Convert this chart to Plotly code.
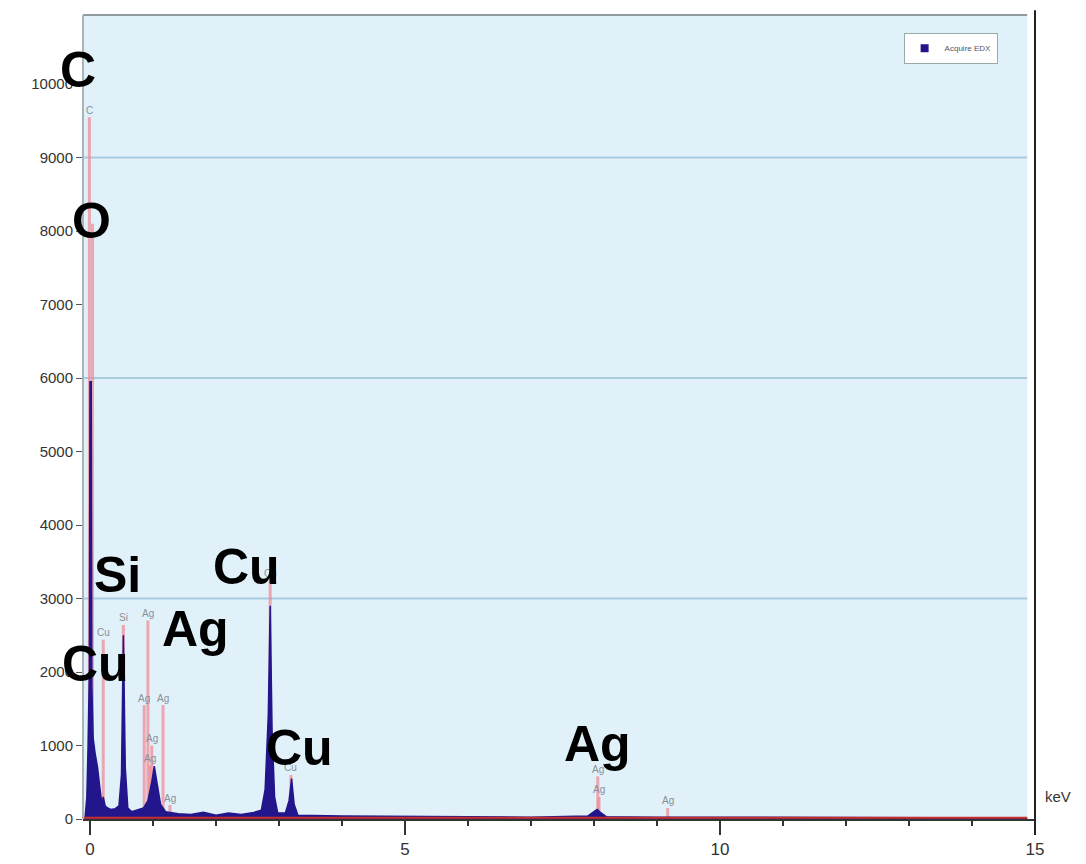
import plotly.graph_objects as go

# EDX spectrum (keV, counts)
spec_kev = [-0.08, -0.05, -0.03, -0.01, 0.00, 0.02, 0.03, 0.05, 0.08, 0.12, 0.16, 0.19,
            0.21, 0.24, 0.28, 0.33, 0.40, 0.46, 0.50, 0.53, 0.56, 0.60, 0.66, 0.75,
            0.85, 0.92, 0.98, 1.02, 1.07, 1.12, 1.20, 1.40, 1.60, 1.80, 2.00, 2.20,
            2.40, 2.60, 2.72, 2.78, 2.83, 2.86, 2.89, 2.93, 2.98, 3.10, 3.16, 3.20,
            3.24, 3.30, 4.00, 5.00, 6.00, 7.00, 7.90, 8.00, 8.05, 8.10, 8.20, 9.00,
            10.0, 12.0, 14.9]
spec_counts = [0, 300, 1000, 2000, 5950, 5950, 1800, 1100, 900, 700, 400, 200,
               300, 180, 150, 130, 140, 180, 600, 2500, 700, 150, 100, 120,
               150, 250, 500, 720, 450, 200, 100, 70, 60, 90, 50, 80,
               60, 90, 120, 400, 1400, 2900, 1200, 300, 80, 80, 250, 550,
               200, 50, 40, 30, 30, 25, 40, 100, 130, 90, 30, 25,
               20, 20, 15]

# element marker lines
line_kev = [-0.01, 0.04, 0.21, 0.53, 0.92, 0.86, 1.16, 0.98, 0.95, 1.27, 2.86, 3.19, 8.06, 8.08, 9.17]
line_height = [9550, 8100, 2440, 2640, 2700, 1550, 1550, 1000, 730, 190, 3250, 600, 580, 300, 150]
line_label = ["C", "", "Cu", "Si", "Ag", "Ag", "Ag", "Ag", "Ag", "Ag", "Cu", "Cu", "Ag", "Ag", "Ag"]

# big element labels
big_text = ["C", "O", "Si", "Cu", "Ag", "Cu", "Cu", "Ag"]
big_kev = [-0.11, 0.03, 0.44, 0.08, 1.68, 2.48, 3.33, 8.05]
big_counts = [10190, 8140, 3320, 2110, 2590, 3430, 960, 1015]

grid_y = [3000, 6000, 9000]
y_ticks = [0, 1000, 2000, 3000, 4000, 5000, 6000, 7000, 8000, 9000, 10000]
x_ticks = [0, 5, 10, 15]

NAVY = "#23168c"
PINK = "rgba(238,140,152,0.75)"

fig = go.Figure()

# pink element lines
lx, ly = [], []
for e, h in zip(line_kev, line_height):
    lx += [e, e, None]
    ly += [0, h, None]
fig.add_trace(go.Scatter(x=lx, y=ly, mode="lines", line=dict(color=PINK, width=3),
                         showlegend=False, hoverinfo="skip"))

# spectrum
fig.add_trace(go.Scatter(x=spec_kev, y=spec_counts, mode="lines", fill="tozeroy",
                         fillcolor=NAVY, line=dict(color=NAVY, width=1.5),
                         showlegend=False))

# baseline
fig.add_trace(go.Scatter(x=[-0.11, 15], y=[18, 18], mode="lines",
                         line=dict(color="#c8302c", width=2), showlegend=False))

# legend entry
fig.add_trace(go.Scatter(x=[None], y=[None], mode="markers", name="Acquire EDX",
                         marker=dict(symbol="square", size=8, color=NAVY)))

# small grey labels on top of element lines
for e, h, t in zip(line_kev, line_height, line_label):
    if t:
        fig.add_annotation(x=e, y=h, text=t, showarrow=False, yshift=7,
                           font=dict(family="Liberation Sans", size=10, color="#8a8f99"))

# big bold labels
for i, (t, e, c) in enumerate(zip(big_text, big_kev, big_counts)):
    fig.add_annotation(x=e, y=c, text=t, showarrow=False, xshift=-5 if i == 0 else 0,
                       font=dict(family="Liberation Sans", size=50, color="black", weight="bold"))

for g in grid_y:
    fig.add_shape(type="line", xref="paper", x0=0, x1=0.992, yref="y", y0=g, y1=g,
                  line=dict(color="#a9cbe0", width=2), layer="below")

# frame: grey top/left, dark right edge
fig.add_shape(type="line", xref="paper", yref="paper", x0=0, x1=0.992, y0=1, y1=1,
              line=dict(color="#8e9a9e", width=2))
fig.add_shape(type="line", xref="paper", yref="paper", x0=0, x1=0, y0=0, y1=1,
              line=dict(color="#a9b4b8", width=2))
fig.add_shape(type="rect", xref="paper", yref="paper", x0=0.992, x1=1, y0=0, y1=1.004,
              fillcolor="white", line=dict(width=0))
fig.add_shape(type="line", xref="paper", yref="paper", x0=1, x1=1, y0=-0.02, y1=1.006,
              line=dict(color="#222", width=2))

fig.add_annotation(xref="paper", yref="paper", x=1.008, y=0.015, text="keV", showarrow=False,
                   xanchor="left", font=dict(family="Liberation Sans", size=15, color="#333"))

fig.update_xaxes(range=[-0.111, 15], tickvals=x_ticks, ticks="outside", ticklen=14,
                 tickwidth=2, tickcolor="#333", showline=True, linecolor="#333", linewidth=2,
                 showgrid=False, zeroline=False,
                 minor=dict(dtick=1, ticks="outside", ticklen=5, tickcolor="#333", tickwidth=2),
                 tickfont=dict(family="Liberation Sans", size=17, color="#333"))
fig.update_yaxes(range=[0, 10940], tickvals=y_ticks, tickformat="d", ticks="outside", ticklen=6,
                 tickcolor="#555", showline=False, showgrid=False, zeroline=False,
                 tickfont=dict(family="Liberation Sans", size=15, color="#333"))

# page body adds 8px offset; margins compensate
fig.update_layout(
    width=1086, height=864,
    margin=dict(l=75, r=59, t=7, b=53, autoexpand=False),
    plot_bgcolor="#e1f1fa",
    paper_bgcolor="white",
    legend=dict(x=0.862, y=0.978, xanchor="left", yanchor="top", bgcolor="white",
                bordercolor="#9aa", borderwidth=1,
                font=dict(family="Liberation Sans", size=8, color="#556"),
                itemwidth=30),
)

fig.write_html("out.html")
